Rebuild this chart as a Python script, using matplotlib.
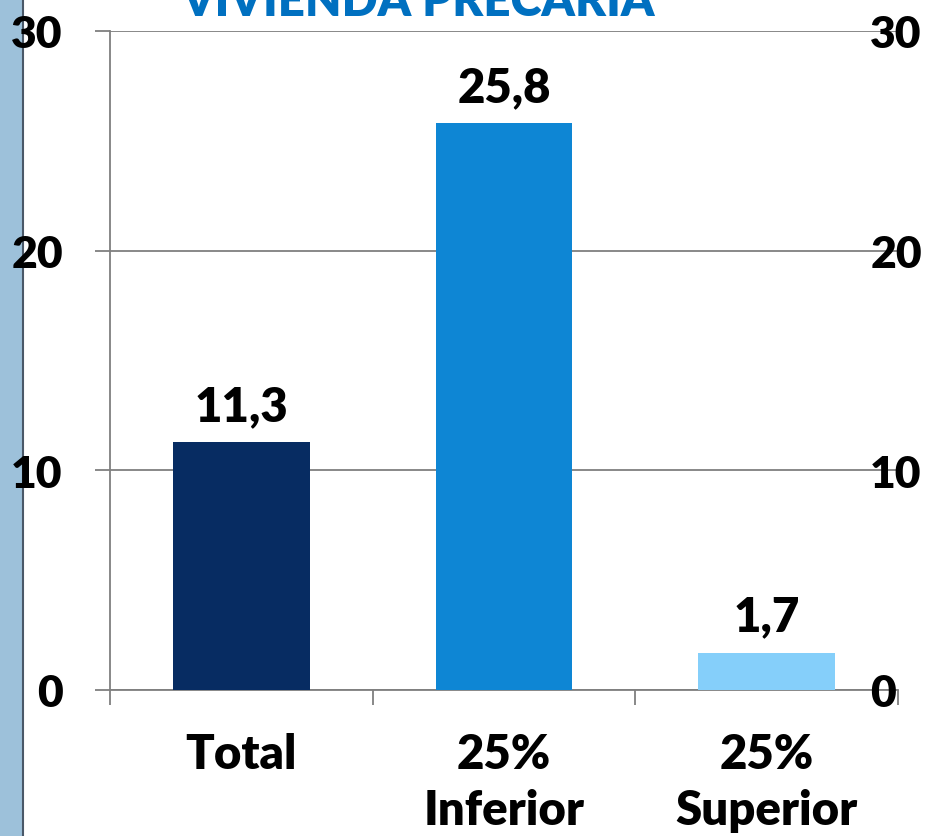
import matplotlib.pyplot as plt
from matplotlib.patches import Rectangle
from matplotlib.lines import Line2D

categories = ["Total", "25%\nInferior", "25%\nSuperior"]
values = [11.3, 25.8, 1.7]
value_labels = ["11,3", "25,8", "1,7"]
colors = ["#072C62", "#0E86D4", "#85CFFA"]
yticks = [0, 10, 20, 30]
title = "VIVIENDA PRECARIA"

plt.rcParams['font.family'] = ['Lato', 'DejaVu Sans']
plt.rcParams['font.weight'] = 'heavy'
FS = 34
YFS = 32

W, H = 926, 837
fig = plt.figure(figsize=(W / 100, H / 100), dpi=100)

# left decorative strip
fig.patches.append(Rectangle((0, 0), 23 / W, 1, transform=fig.transFigure,
                             facecolor="#9DC1DA", edgecolor="none", zorder=-5))
fig.lines.append(Line2D([23 / W, 23 / W], [0, 1], transform=fig.transFigure,
                        color="#4A5868", lw=1.5, zorder=-4))

ax = fig.add_axes([110 / W, 1 - 691 / H, (898 - 110) / W, (691 - 32) / H])
ax.patch.set_alpha(0)
x = range(len(categories))
ax.bar(x, values, width=0.52, color=colors, zorder=3)

for i, (v, lab) in enumerate(zip(values, value_labels)):
    ax.annotate(lab, (i, v), xytext=(0, 14), textcoords="offset pixels",
                ha="center", va="bottom", fontsize=FS, fontweight="heavy")

ax.set_xlim(-0.5, 2.5)
ax.set_ylim(0, 30)
ax.set_yticks(yticks)
ax.set_yticklabels([str(t) for t in yticks])
ax.yaxis.grid(True, color="#7F7F7F", lw=1.3, zorder=0)
ax.tick_params(axis="y", length=11, width=1.3, color="#7F7F7F", pad=23,
               labelsize=YFS)

ax.set_xticks(list(x))
ax.set_xticklabels(categories, fontsize=FS, fontweight="heavy", linespacing=1.35)
ax.tick_params(axis="x", which="major", length=0, pad=30)
ax.set_xticks([-0.5, 0.5, 1.5, 2.5], minor=True)
ax.tick_params(axis="x", which="minor", length=11, width=1.3, color="#7F7F7F")

for s in ["top", "right"]:
    ax.spines[s].set_visible(False)
for s in ["left", "bottom"]:
    ax.spines[s].set_color("#7F7F7F")
    ax.spines[s].set_linewidth(1.3)

ax2 = ax.twinx()
ax2.set_ylim(0, 30)
ax2.set_yticks(yticks)
ax2.set_yticklabels([str(t) for t in yticks])
ax2.tick_params(axis="y", length=0, pad=-20, labelsize=YFS)
for s in ax2.spines.values():
    s.set_visible(False)

fig.text(418 / W, 1 - 16 / H, title, ha="center", va="baseline",
         fontsize=FS, fontweight="heavy", color="#0070C0")

fig.savefig("out.png", dpi=100)
